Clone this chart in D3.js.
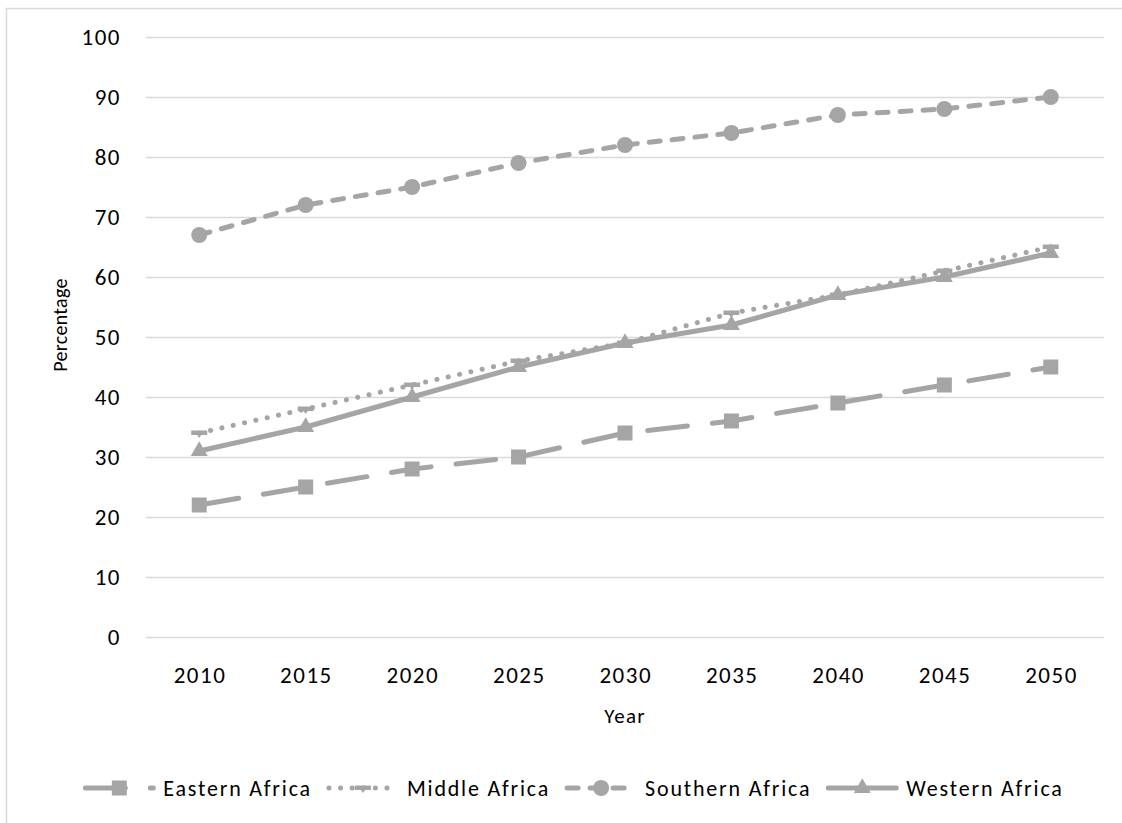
<!DOCTYPE html>
<html>
<head>
<meta charset="utf-8">
<script src="https://cdn.jsdelivr.net/npm/d3@7"></script>
<style>
  html, body { margin: 0; padding: 0; background: #fff; }
  svg { display: block; }
  text { font-family: Carlito, Calibri, Lato, "Open Sans", sans-serif; fill: #000; }
</style>
</head>
<body>
<svg id="chart" width="1122" height="823"></svg>
<script>
// Urban population share by African sub-region, 2010–2050
const years = ["2010", "2015", "2020", "2025", "2030", "2035", "2040", "2045", "2050"];
const easternAfrica  = [22, 25, 28, 30, 34, 36, 39, 42, 45];
const middleAfrica   = [34, 38, 42, 46, 49, 54, 57, 61, 65];
const southernAfrica = [67, 72, 75, 79, 82, 84, 87, 88, 90];
const westernAfrica  = [31, 35, 40, 45, 49, 52, 57, 60, 64];
const yTicks = [0, 10, 20, 30, 40, 50, 60, 70, 80, 90, 100];
const seriesNames = ["Eastern Africa", "Middle Africa", "Southern Africa", "Western Africa"];

const grey = "#A5A5A5";
const series = [
  { name: seriesNames[0], values: easternAfrica,  dash: "40 25",    marker: "square" },
  { name: seriesNames[1], values: middleAfrica,   dash: "0.1 11.5", marker: "dash" },
  { name: seriesNames[2], values: southernAfrica, dash: "11 12",    marker: "circle" },
  { name: seriesNames[3], values: westernAfrica,  dash: null,       marker: "triangle" }
];

const svg = d3.select("#chart");
const plot = { left: 146, right: 1104, top: 37, bottom: 637 };
const fontStack = "Carlito, Calibri, Lato, sans-serif";

// Outer chart frame (continues past the visible area on the right and bottom)
svg.append("rect")
  .attr("x", 6.5).attr("y", 8.5)
  .attr("width", 1140).attr("height", 840)
  .attr("fill", "none").attr("stroke", "#D9D9D9").attr("stroke-width", 1.5);

const x = d3.scaleBand().domain(years).range([plot.left, plot.right]);
const y = d3.scaleLinear().domain([0, 100]).range([plot.bottom, plot.top]);
const cx = d => x(d) + x.bandwidth() / 2;

// Horizontal gridlines + y tick labels
const yAxis = d3.axisLeft(y).tickValues(yTicks).tickSize(-(plot.right - plot.left)).tickPadding(25);
const gy = svg.append("g").attr("transform", `translate(${plot.left},0)`).call(yAxis);
gy.select(".domain").remove();
gy.selectAll(".tick line").attr("stroke", "#D9D9D9").attr("stroke-width", 1.5);
gy.selectAll(".tick text").attr("font-size", 23).attr("letter-spacing", 1.5).attr("fill", "#000")
  .style("font-family", fontStack);

// Category axis labels
const xAxis = d3.axisBottom(x).tickSize(0).tickPadding(30);
const gx = svg.append("g").attr("transform", `translate(0,${plot.bottom})`).call(xAxis);
gx.select(".domain").remove();
gx.selectAll(".tick text").attr("font-size", 23).attr("letter-spacing", 1.5).attr("dx", 0.75).attr("fill", "#000")
  .style("font-family", fontStack);

// Axis titles
svg.append("text").attr("x", (plot.left + plot.right) / 2).attr("y", 723)
  .attr("text-anchor", "middle").attr("font-size", 21).attr("letter-spacing", 1.2).text("Year");
svg.append("text").attr("transform", "translate(67,325) rotate(-90)")
  .attr("text-anchor", "middle").attr("font-size", 20).attr("letter-spacing", 0.3).text("Percentage");

// Marker drawing helper
function drawMarker(g, type, px, py) {
  if (type === "square") {
    g.append("rect").attr("x", px - 7.5).attr("y", py - 7.5).attr("width", 15).attr("height", 15).attr("fill", grey);
  } else if (type === "circle") {
    g.append("circle").attr("cx", px).attr("cy", py).attr("r", 8).attr("fill", grey);
  } else if (type === "triangle") {
    g.append("path").attr("d", d3.symbol().type(d3.symbolTriangle).size(125)()).attr("transform", `translate(${px},${py})`).attr("fill", grey);
  } else if (type === "dash") {
    g.append("rect").attr("x", px - 8).attr("y", py - 2.5).attr("width", 16).attr("height", 4.5).attr("fill", grey);
    g.append("path").attr("d", `M${px - 2},${py + 2} L${px + 2},${py + 2} L${px},${py + 5} Z`).attr("fill", grey);
  }
}

const line = d3.line().x((d, i) => cx(years[i])).y(d => y(d));

series.forEach(s => {
  const g = svg.append("g");
  g.append("path").datum(s.values)
    .attr("d", line)
    .attr("fill", "none").attr("stroke", grey).attr("stroke-width", 5)
    .attr("stroke-linecap", "round").attr("stroke-linejoin", "round")
    .attr("stroke-dasharray", s.dash);
  s.values.forEach((v, i) => drawMarker(g, s.marker, cx(years[i]), y(v)));
});

// Legend: single centered row below the plot
const legend = svg.append("g");
const legendY = 788;
const symW = 68, symGap = 10, itemGap = 17;
let cursor = 0;
series.forEach(s => {
  const g = legend.append("g");
  g.append("line").attr("x1", 0).attr("x2", symW).attr("y1", 0).attr("y2", 0)
    .attr("stroke", grey).attr("stroke-width", 5).attr("stroke-linecap", "round")
    .attr("stroke-dasharray", s.dash);
  drawMarker(g, s.marker, symW / 2, 0);
  const t = g.append("text").attr("x", symW + symGap).attr("y", 8)
    .attr("font-size", 22).attr("letter-spacing", 1.8).text(s.name);
  const w = symW + symGap + t.node().getComputedTextLength();
  g.attr("transform", `translate(${cursor},${legendY})`);
  cursor += w + itemGap;
});
const totalW = cursor - itemGap;
legend.attr("transform", `translate(${574.5 - totalW / 2},0)`);
</script>
</body>
</html>
